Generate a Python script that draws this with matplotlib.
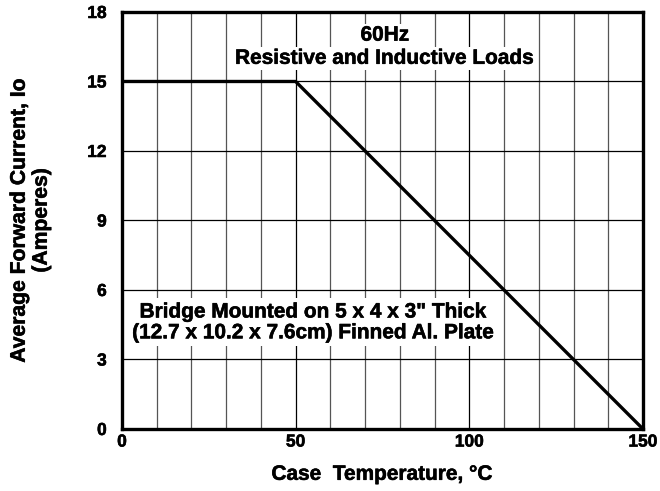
import matplotlib
matplotlib.use("Agg")
import matplotlib.pyplot as plt
import matplotlib.patheffects as pe
import numpy as np

temps = [0, 50, 150]
current = [15, 15, 0]
xticks = [0, 50, 100, 150]
yticks = [0, 3, 6, 9, 12, 15, 18]

plt.rcParams['font.family'] = ['Liberation Sans', 'DejaVu Sans']
plt.rcParams['font.weight'] = 'bold'

thick = [pe.withStroke(linewidth=0.4, foreground='black')]

fig = plt.figure(figsize=(6.6, 4.91), dpi=100)
ax = fig.add_axes([0.1848, 0.1263, 0.7894, 0.8493])
ax.set_xlim(0, 150)
ax.set_ylim(0, 18)

for x in np.arange(10, 150, 10):
    c = 'black' if x in (50, 100) else '#555555'
    ax.axvline(x, color=c, lw=0.9, zorder=1)
for y in yticks[1:-1]:
    ax.axhline(y, color='black', lw=0.9, zorder=1)

ax.plot(temps, current, color='black', lw=2.4, zorder=3, solid_capstyle='butt')

ax.set_xticks(xticks)
ax.set_yticks(yticks)
ax.tick_params(axis='x', length=0, labelsize=12.5, pad=4)
ax.tick_params(axis='y', length=0, labelsize=12.5, pad=11)
for lab in ax.get_xticklabels() + ax.get_yticklabels():
    lab.set_fontweight('bold')
    lab.set_path_effects(thick)
for s in ax.spines.values():
    s.set_linewidth(2.4)
    s.set_zorder(4)

box = dict(facecolor='white', edgecolor='none', pad=1.5)
ax.text(75.7, 17.0, '60Hz', ha='center', va='center', fontsize=15, fontweight='bold',
        bbox=box, zorder=2, path_effects=thick)
ax.text(75.7, 16.0, 'Resistive and Inductive Loads', ha='center', va='center', fontsize=15,
        fontweight='bold', bbox=box, zorder=2, path_effects=thick)
ax.text(55.1, 4.6, 'Bridge Mounted on 5 x 4 x 3" Thick\n(12.7 x 10.2 x 7.6cm) Finned Al. Plate',
        ha='center', va='center', fontsize=15, fontweight='bold', linespacing=1.12,
        bbox=dict(facecolor='white', edgecolor='none', pad=3), zorder=2, path_effects=thick)

ax.set_xlabel('Case  Temperature, \u00b0C', fontsize=15, fontweight='bold', labelpad=11,
              path_effects=thick)
ax.set_ylabel('Average Forward Current, Io\n(Amperes)', fontsize=15.2, fontweight='bold',
              linespacing=1.2, path_effects=thick)
ax.yaxis.label.set_va('center')
ax.yaxis.set_label_coords(-0.176, 0.5)

fig.savefig('out.png', dpi=100)
